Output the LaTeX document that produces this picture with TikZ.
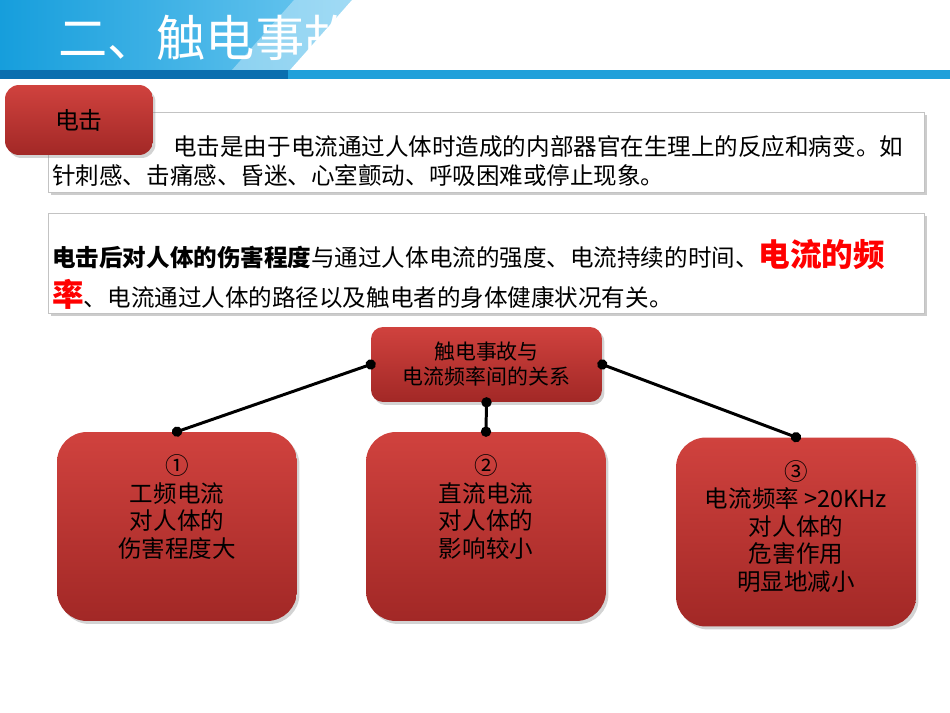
\documentclass[tikz,border=0pt]{standalone}
\usepackage{fontspec}
\setmainfont{Noto Sans CJK SC}
\usepackage{tikz}
\usetikzlibrary{positioning,shadows,arrows.meta}
\definecolor{titleblue}{RGB}{22,158,220}
\definecolor{titlelight}{RGB}{110,200,240}
\definecolor{bardark}{RGB}{10,110,175}
\definecolor{barlight}{RGB}{32,160,218}
\definecolor{boxtop}{RGB}{208,66,62}
\definecolor{boxbot}{RGB}{162,40,38}
\definecolor{framegray}{RGB}{195,195,195}

\begin{document}
\begin{tikzpicture}[x=0.02cm,y=-0.02cm,
    descbox/.style={draw=framegray, fill=white, minimum width=17.52cm,
        drop shadow={shadow xshift=0.06cm, shadow yshift=-0.06cm, opacity=0.4}},
    redbox/.style={rounded corners=0.6cm, top color=boxtop, bottom color=boxbot,
        minimum width=4.8cm, minimum height=3.78cm,
        drop shadow={shadow xshift=0.05cm, shadow yshift=-0.06cm, opacity=0.35}},
    boxtext/.style={align=center, inner sep=0, font=\fontsize{13.4}{15.6}\selectfont},
    link/.style={line width=1.7pt, {Circle[length=5.8pt]}-{Circle[length=5.8pt]},
        shorten <=-2.9pt, shorten >=-2.9pt}]
    \useasboundingbox (0,0) rectangle (950,713);
    % title banner
    \shade[left color=titleblue, right color=titlelight] (0,0) rectangle (352,70);
    \node[anchor=west, inner sep=0, text=white, font=\fontsize{28}{28}\selectfont] (title) at (58,38) {二、触电事故};
    \fill[white, opacity=0.35] (232,70) -- (294,0) -- (352,0) -- (290,70) -- cycle;
    \fill[white] (290,70) -- (352,0) -- (950,0) -- (950,70) -- cycle;
    \fill[bardark] (0,70) rectangle (288,79);
    \fill[barlight] (288,70) rectangle (950,79);
    % text boxes
    \node[descbox, minimum height=1.6cm] (d1) at (486,152) {};
    \node[anchor=west, align=left, inner sep=0, font=\fontsize{13.4}{16.6}\selectfont] (d1text) at (52,161)
        {\hspace*{2.42cm}电击是由于电流通过人体时造成的内部器官在生理上的反应和病变。如\\针刺感、击痛感、昏迷、心室颤动、呼吸困难或停止现象。};
    \node[rounded corners=0.28cm, top color=boxtop, bottom color=boxbot, minimum width=2.96cm, minimum height=1.4cm,
        font=\fontsize{13.6}{13.6}\selectfont,
        drop shadow={shadow xshift=0.05cm, shadow yshift=-0.06cm, opacity=0.35}] (tag) at (79,120) {电击};
    \node[descbox, minimum height=2cm] (d2) at (486,263) {};
    \node[anchor=west, align=left, inner sep=0, font=\fontsize{13.4}{22.7}\selectfont] (d2text) at (52,274)
        {{\bfseries 电击后对人体的伤害程度}与通过人体电流的强度、电流持续的时间、{\color{red}\fontsize{18}{22.7}\selectfont\bfseries 电流的频}\\{\color{red}\fontsize{18}{22.7}\selectfont\bfseries 率}、电流通过人体的路径以及触电者的身体健康状况有关。};
    % relation tree
    \node[rounded corners=0.24cm, top color=boxtop, bottom color=boxbot, minimum width=4.62cm, minimum height=1.5cm,
        align=center, font=\fontsize{11.9}{14.2}\selectfont,
        drop shadow={shadow xshift=0.05cm, shadow yshift=-0.06cm, opacity=0.35}] (rel) at (486.5,364.5) {触电事故与\\电流频率间的关系};
    \node[redbox] (b1) at (177,526.5) {};
    \node[redbox] (b2) at (486,526.5) {};
    \node[redbox] (b3) at (796,532) {};
    \node[boxtext, below=0.46cm of b1.north] (t1) {①\\工频电流\\对人体的\\伤害程度大};
    \node[boxtext, below=0.46cm of b2.north] (t2) {②\\直流电流\\对人体的\\影响较小};
    \node[boxtext, below=0.46cm of b3.north] (t3) {③\\电流频率 >20KHz\\对人体的\\危害作用\\明显地减小};
    \draw[link] (rel.west) -- (b1.north);
    \draw[link] (rel.south) -- (b2.north);
    \draw[link] (rel.east) -- (b3.north);
\end{tikzpicture}
\end{document}
